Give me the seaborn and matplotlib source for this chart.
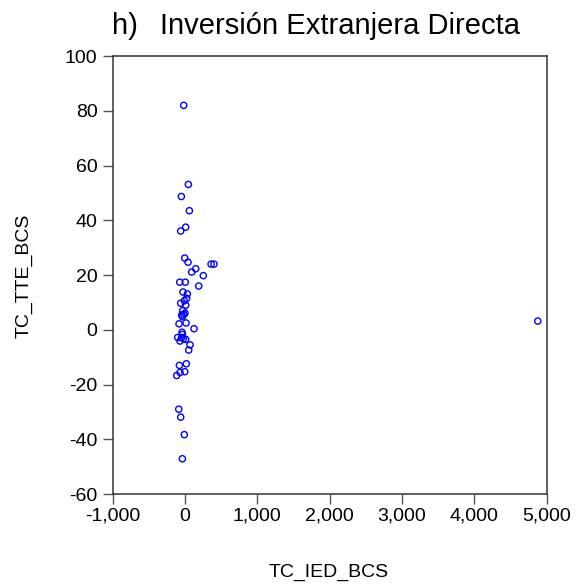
import matplotlib
matplotlib.use("Agg")
import matplotlib.pyplot as plt
import seaborn as sns
from matplotlib.ticker import FuncFormatter

# TC_IED_BCS (x) and TC_TTE_BCS (y)
tc_ied_bcs = [-18, 46, -51, 60, 9, -60, -4, 41, 360, 400, 148, 92, 253,
              -73, 4, 189, -28, 32, 23, -10, -60, 9, -32, 0, -46, -18, -37,
              -83, 14, 124, -41, -37, -101, -46, -23, -69, 9, 69, 51, 18,
              -78, -4, -69, -115, -87, -60, -10, -37, 4878]
tc_tte_bcs = [82.0, 53.1, 48.7, 43.5, 37.5, 36.1, 26.2, 24.7, 24.0, 24.0,
              22.3, 21.1, 19.8, 17.4, 17.4, 16.0, 13.8, 13.1, 11.5, 10.6, 9.7,
              9.0, 7.0, 6.1, 5.4, 5.6, 4.8, 2.2, 2.5, 0.4, -0.9, -1.7, -2.8,
              -2.8, -3.3, -4.1, -3.5, -5.5, -7.4, -12.4, -13.0, -15.3, -15.6,
              -16.7, -29.0, -31.9, -38.3, -47.1, 3.2]

sns.set_style("ticks")
plt.rcParams['font.family'] = ['Liberation Sans', 'DejaVu Sans']
plt.rcParams['axes.unicode_minus'] = False
plt.rcParams['text.color'] = 'black'

fig = plt.figure(figsize=(5.84, 5.84), dpi=100)
ax = fig.add_axes([0.193, 0.154, 0.743, 0.75])

sns.scatterplot(x=tc_ied_bcs, y=tc_tte_bcs, ax=ax, marker="o", s=20,
                facecolor="none", edgecolor="#0000ff", linewidth=1.0)

ax.set_xlim(-1000, 5000)
ax.set_ylim(-60, 100)
ax.set_xticks(range(-1000, 5001, 1000))
ax.set_yticks(range(-60, 101, 20))
ax.xaxis.set_major_formatter(FuncFormatter(lambda v, p: f"{v:,.0f}"))

for s in ax.spines.values():
    s.set_linewidth(1.1)
    s.set_color("#333333")
ax.tick_params(direction="out", length=7, width=1.0, color="#555555",
               labelsize=14, labelcolor="black")
ax.tick_params(axis="x", pad=3)
ax.tick_params(axis="y", pad=4)

# title: "h)" and the name set apart, as in the original
fig.text(0.191, 0.9426, "h)", fontsize=21, ha="left", va="baseline")
fig.text(0.274, 0.9426, "Inversión Extranjera Directa", fontsize=21,
         ha="left", va="baseline")
fig.text(0.563, 0.012, "TC_IED_BCS", fontsize=14, ha="center", va="baseline")
fig.text(0.041, 0.527, "TC_TTE_BCS", fontsize=14, ha="center", va="center",
         rotation=90)

fig.savefig("out.png", dpi=100)
